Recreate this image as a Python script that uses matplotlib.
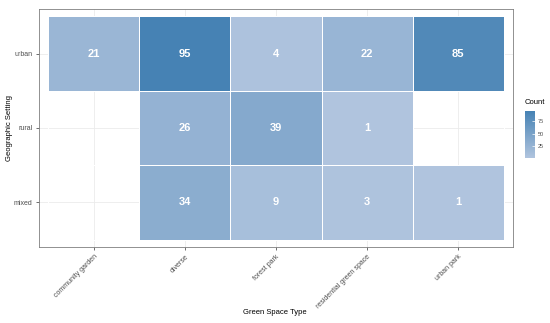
import numpy as np
import matplotlib
matplotlib.use('Agg')
import matplotlib.pyplot as plt
from matplotlib.colors import LinearSegmentedColormap, Normalize

plt.rcParams['font.family'] = ['Liberation Sans', 'DejaVu Sans']

space_types = ['community garden', 'diverse', 'forest park',
               'residential green space', 'urban park']
settings = ['mixed', 'rural', 'urban']  # bottom to top

counts_mixed = [np.nan, 34, 9, 3, 1]
counts_rural = [np.nan, 26, 39, 1, np.nan]
counts_urban = [21, 95, 4, 22, 85]

cbar_ticks = [25, 50, 75]

counts = np.array([counts_mixed, counts_rural, counts_urban], dtype=float)
masked = np.ma.masked_invalid(counts)

cmap = LinearSegmentedColormap.from_list('steel', ['#B0C4DE', '#4682B4'])
norm = Normalize(vmin=np.nanmin(counts), vmax=np.nanmax(counts))

W, H = 550, 323
fig = plt.figure(figsize=(W / 100, H / 100), dpi=100)

# panel in pixel coords
px0, px1, py0, py1 = 39, 513, 9, 247
ax = fig.add_axes([px0 / W, 1 - py1 / H, (px1 - px0) / W, (py1 - py0) / H])

ax.set_axisbelow(True)
ax.grid(True, color='#EBEBEB', linewidth=0.6)

xe = np.arange(len(space_types) + 1) - 0.5
ye = np.arange(len(settings) + 1) - 0.5
ax.pcolormesh(xe, ye, masked, cmap=cmap, norm=norm,
              edgecolors='white', linewidth=0.4)

for i in range(len(settings)):
    for j in range(len(space_types)):
        if not np.isnan(counts[i, j]):
            ax.text(j, i, str(int(counts[i, j])), ha='center', va='center',
                    color='white', fontweight='bold', fontsize=8)

ax.set_xlim(-0.6, len(space_types) - 0.4)
ax.set_ylim(-0.6, len(settings) - 0.4)
ax.set_xticks(range(len(space_types)))
ax.set_xticklabels(space_types, rotation=45, ha='right', rotation_mode='anchor')
ax.set_yticks(range(len(settings)))
ax.set_yticklabels(settings)
ax.tick_params(axis='both', labelsize=5, labelcolor='#4D4D4D', color='#333333',
               length=2.5, width=0.5, pad=2)

for s in ax.spines.values():
    s.set_color('#7F7F7F')
    s.set_linewidth(0.6)

ax.set_xlabel('Green Space Type', fontsize=5.5)
ax.set_ylabel('Geographic Setting', fontsize=5.5)
ax.xaxis.set_label_coords((275 - px0) / (px1 - px0), -(313 - py1) / (py1 - py0))
ax.yaxis.set_label_coords(-(px0 - 10) / (px1 - px0), (py1 - 128) / (py1 - py0))
ax.xaxis.label.set_va('center')
ax.yaxis.label.set_va('center')

# colourbar legend
cx0, cx1, cy0, cy1 = 525, 535, 111, 158
cax = fig.add_axes([cx0 / W, 1 - cy1 / H, (cx1 - cx0) / W, (cy1 - cy0) / H])
sm = plt.cm.ScalarMappable(cmap=cmap, norm=norm)
cb = fig.colorbar(sm, cax=cax, ticks=cbar_ticks)
cb.outline.set_visible(False)
cax.tick_params(labelsize=4, labelcolor='#4D4D4D', length=2, width=0.5,
                color='white', direction='in', pad=2)
fig.text(cx0 / W, 1 - 103 / H, 'Count', fontsize=5.5, ha='left', va='center')

fig.savefig('out.png', dpi=100)
